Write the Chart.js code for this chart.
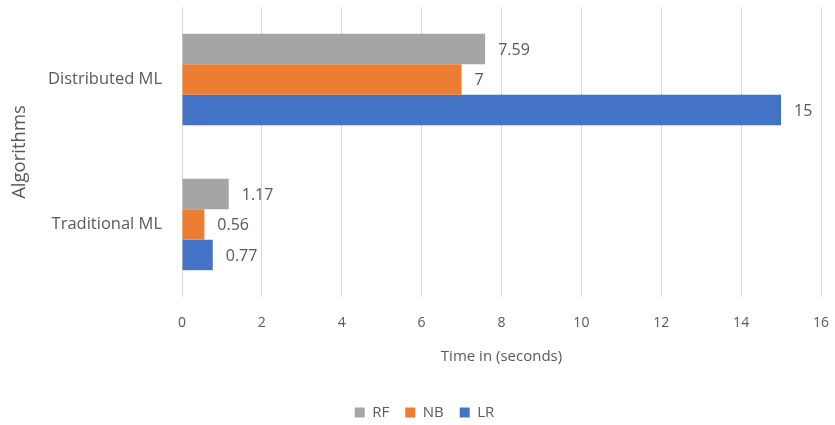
<!DOCTYPE html>
<html>
<head>
<meta charset="utf-8">
<script src="https://cdn.jsdelivr.net/npm/chart.js@4"></script>
<style>
  html, body { margin: 0; padding: 0; background: #fff; }
  #wrap { width: 835px; height: 425px; }
</style>
</head>
<body>
<div id="wrap"><canvas id="chart" width="835" height="425"></canvas></div>
<script>
// categories and series
const categories = ['Distributed ML', 'Traditional ML'];
const rfTimes = [7.59, 1.17];
const nbTimes = [7, 0.56];
const lrTimes = [15, 0.77];
const xTicks = [0, 2, 4, 6, 8, 10, 12, 14, 16];

const textColor = '#595959';
const fontFamily = "'Open Sans', 'Liberation Sans', sans-serif";

// draws the value next to the end of each bar
const barValueLabels = {
    id: 'barValueLabels',
    afterDatasetsDraw(chart) {
        const ctx = chart.ctx;
        ctx.save();
        ctx.fillStyle = textColor;
        ctx.font = '16px ' + fontFamily;
        ctx.textAlign = 'left';
        ctx.textBaseline = 'middle';
        chart.data.datasets.forEach((ds, i) => {
            chart.getDatasetMeta(i).data.forEach((bar, j) => {
                ctx.fillText(String(ds.data[j]), bar.x + 13, bar.y + 1);
            });
        });
        ctx.restore();
    }
};

new Chart(document.getElementById('chart'), {
    type: 'bar',
    data: {
        labels: categories,
        datasets: [
            { label: 'RF', data: rfTimes, backgroundColor: '#a5a5a5' },
            { label: 'NB', data: nbTimes, backgroundColor: '#ed7d31' },
            { label: 'LR', data: lrTimes, backgroundColor: '#4472c4' }
        ]
    },
    options: {
        indexAxis: 'y',
        responsive: false,
        animation: false,
        categoryPercentage: 0.63,
        barPercentage: 1,
        // extra left padding pushes the legend a bit right, like the original
        layout: { padding: { top: 7, right: 14, left: 28, bottom: -5 } },
        plugins: {
            legend: {
                position: 'bottom',
                labels: {
                    boxWidth: 10,
                    boxHeight: 10,
                    padding: 16,
                    color: textColor,
                    font: { family: fontFamily, size: 15 }
                }
            },
            tooltip: { enabled: false }
        },
        scales: {
            x: {
                min: 0,
                max: 16,
                afterBuildTicks: axis => { axis.ticks = xTicks.map(v => ({ value: v })); },
                afterFit: axis => {
                    axis.height = 92;
                    axis.paddingLeft = 0;
                    axis.paddingRight = 0;
                },
                grid: { color: '#d9d9d9', drawTicks: false },
                border: { display: false },
                ticks: {
                    padding: 18,
                    color: textColor,
                    font: { family: fontFamily, size: 14 }
                },
                title: {
                    display: true,
                    text: 'Time in (seconds)',
                    color: textColor,
                    font: { family: fontFamily, size: 15 },
                    padding: { top: 0, bottom: 23 }
                }
            },
            y: {
                afterFit: axis => {
                    axis.width = 154;
                    axis.paddingTop = 0;
                    axis.paddingBottom = 0;
                },
                grid: { display: false },
                border: { display: false },
                ticks: {
                    padding: 12,
                    color: textColor,
                    font: { family: fontFamily, size: 16.5 }
                },
                title: {
                    display: true,
                    text: 'Algorithms',
                    color: textColor,
                    font: { family: fontFamily, size: 18.5 },
                    padding: { top: -19, bottom: 0 }
                }
            }
        }
    },
    plugins: [barValueLabels]
});
</script>
</body>
</html>
